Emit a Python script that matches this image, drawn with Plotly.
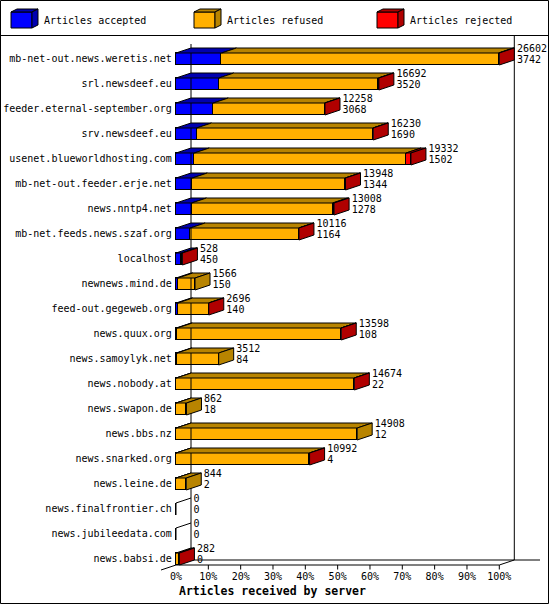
import plotly.graph_objects as go

# 服务器统计数据
servers = [
    "mb-net-out.news.weretis.net", "srl.newsdeef.eu", "feeder.eternal-september.org",
    "srv.newsdeef.eu", "usenet.blueworldhosting.com", "mb-net-out.feeder.erje.net",
    "news.nntp4.net", "mb-net.feeds.news.szaf.org", "localhost", "newnews.mind.de",
    "feed-out.gegeweb.org", "news.quux.org", "news.samoylyk.net", "news.nobody.at",
    "news.swapon.de", "news.bbs.nz", "news.snarked.org", "news.leine.de",
    "news.finalfrontier.ch", "news.jubileedata.com", "news.babsi.de",
]
offered = [26602, 16692, 12258, 16230, 19332, 13948, 13008, 10116, 528, 1566,
           2696, 13598, 3512, 14674, 862, 14908, 10992, 844, 0, 0, 282]
accepted = [3742, 3520, 3068, 1690, 1502, 1344, 1278, 1164, 450, 150,
            140, 108, 84, 22, 18, 12, 4, 2, 0, 0, 0]
refused = [22800, 13132, 9160, 14510, 17430, 12584, 11610, 8932, 58, 1416,
           2546, 13470, 3428, 14642, 844, 14896, 10978, 842, 0, 0, 242]
rejected = [60, 40, 30, 30, 400, 20, 120, 20, 20, 0,
            10, 20, 0, 10, 0, 0, 10, 0, 0, 0, 40]
tick_pct = [0, 10, 20, 30, 40, 50, 60, 70, 80, 90, 100]
legend_names = ["Articles accepted", "Articles refused", "Articles rejected"]

FRONT = ["#0000FF", "#FFB000", "#FF0000"]
SHADE = ["#0000B0", "#B88400", "#B00000"]
FONT = "DejaVu Sans Mono"

W, H = 550, 605
X0_PX, PX_PCT = 176, 3.233      # 0% 的像素位置, 每 1% 的像素
Y0_PX, PX_ROW = 59, 25          # 第一行中心, 行距
DX = 15 / PX_PCT                # 立体深度（x）
DY = 5 / PX_ROW                 # 立体深度（y，向上）
HB = 6 / PX_ROW                 # 正面半高

top = max(offered)
pct = lambda v: v * 100.0 / top
rows = list(range(len(servers)))


def poly_trace(polys, fill):
    xs, ys = [], []
    for p in polys:
        for x, y in p + [p[0]]:
            xs.append(x)
            ys.append(y)
        xs.append(None)
        ys.append(None)
    return go.Scatter(x=xs, y=ys, mode="lines", fill="toself", fillcolor=fill,
                      line=dict(color="black", width=1), hoverinfo="skip", showlegend=False)


def line_trace(segs, width=1):
    xs, ys = [], []
    for s in segs:
        for x, y in s:
            xs.append(x)
            ys.append(y)
        xs.append(None)
        ys.append(None)
    return go.Scatter(x=xs, y=ys, mode="lines", line=dict(color="black", width=width),
                      hoverinfo="skip", showlegend=False)


fig = go.Figure()

# 背景坐标线
ends = [pct(a + r + j) for a, r, j in zip(accepted, refused, rejected)]
wall_bottom = len(servers) - 1 + HB - DY
front_bottom = len(servers) - 1 + HB
segs = [
    [(DX, (44 - Y0_PX) / PX_ROW), (DX, wall_bottom)],
    [(100 + DX, (36 - Y0_PX) / PX_ROW), (100 + DX, wall_bottom)],
    [(DX, wall_bottom), ((540 - X0_PX) / PX_PCT, wall_bottom)],
    [(-DX, front_bottom + DY), (0, front_bottom), (100, front_bottom), (100 + DX, wall_bottom)],
]
for t in tick_pct[1:]:
    segs.append([(t, front_bottom), (t, front_bottom + 0.18)])
fig.add_trace(line_trace(segs))

# 正面
for vals, color, name in zip([accepted, refused, rejected], FRONT, legend_names):
    fig.add_trace(go.Bar(y=rows, x=[pct(v) for v in vals], orientation="h", width=2 * HB,
                         marker=dict(color=color, line=dict(color="black", width=1)),
                         name=name, showlegend=False))

# 顶面
for k, vals in enumerate([accepted, refused, rejected]):
    polys = []
    for i in rows:
        x0 = pct(sum(s[i] for s in [accepted, refused, rejected][:k]))
        x1 = x0 + pct(vals[i])
        if vals[i] > 0:
            yt = i - HB
            polys.append([(x0, yt), (x1, yt), (x1 + DX, yt - DY), (x0 + DX, yt - DY)])
    fig.add_trace(poly_trace(polys, SHADE[k]))

# 侧面
for k in range(3):
    polys = []
    for i in rows:
        vals = [accepted[i], refused[i], rejected[i]]
        if offered[i] == 0:
            continue
        last = max(j for j in range(3) if vals[j] > 0)
        if last == k:
            x = ends[i]
            polys.append([(x, i - HB), (x + DX, i - HB - DY), (x + DX, i + HB - DY), (x, i + HB)])
    if polys:
        fig.add_trace(poly_trace(polys, SHADE[k]))

# 空条
zero = [[(0, i + HB), (0, i - HB), (DX, i - HB - DY)] for i in rows if offered[i] == 0]
fig.add_trace(line_trace(zero))

# 文字
txt = dict(family=FONT, size=10, color="black")
fig.add_trace(go.Scatter(x=[-1.3] * len(rows), y=rows, text=servers, mode="text",
                         textposition="middle left", textfont=txt, hoverinfo="skip", showlegend=False))
fig.add_trace(go.Scatter(x=[e + DX + 0.8 for e in ends], y=[i - 0.38 for i in rows],
                         text=[str(v) for v in offered], mode="text", textposition="middle right",
                         textfont=txt, hoverinfo="skip", showlegend=False))
fig.add_trace(go.Scatter(x=[e + DX + 0.8 for e in ends], y=[i + 0.06 for i in rows],
                         text=[str(v) for v in accepted], mode="text", textposition="middle right",
                         textfont=txt, hoverinfo="skip", showlegend=False))
fig.add_trace(go.Scatter(x=tick_pct, y=[front_bottom + 0.48] * len(tick_pct),
                         text=[f"{t}%" for t in tick_pct], mode="text", textposition="middle center",
                         textfont=txt, hoverinfo="skip", showlegend=False))


# 图例与边框（像素 -> paper）
def px(x, y):
    return x / W, 1 - y / H


shapes = []
annotations = []
for k, (name, lx) in enumerate(zip(legend_names, [11, 194, 377])):
    fx0, fx1, fy0, fy1 = lx, lx + 21, 12, 28
    d = (6, -3)
    a = px(fx0, fy0); b = px(fx1, fy1)
    shapes.append(dict(type="rect", xref="paper", yref="paper", x0=a[0], y0=b[1], x1=b[0], y1=a[1],
                       fillcolor=FRONT[k], line=dict(color="black", width=1)))
    pts_top = [px(fx0, fy0), px(fx1, fy0), px(fx1 + d[0], fy0 + d[1]), px(fx0 + d[0], fy0 + d[1])]
    pts_side = [px(fx1, fy0), px(fx1 + d[0], fy0 + d[1]), px(fx1 + d[0], fy1 + d[1]), px(fx1, fy1)]
    for pts in (pts_top, pts_side):
        path = "M " + " L ".join(f"{x:.5f},{y:.5f}" for x, y in pts) + " Z"
        shapes.append(dict(type="path", xref="paper", yref="paper", path=path,
                           fillcolor=SHADE[k], line=dict(color="black", width=1)))
    tx, ty = px(lx + 31, 20)
    annotations.append(dict(x=tx, y=ty, xref="paper", yref="paper", text=name, showarrow=False,
                            xanchor="left", yanchor="middle", font=txt))

a = px(0.5, 0.5); b = px(548.5, 603.5)
shapes.append(dict(type="rect", xref="paper", yref="paper", x0=a[0], y0=b[1], x1=b[0], y1=a[1],
                   line=dict(color="black", width=1)))
a = px(0.5, 35.5); b = px(548.5, 35.5)
shapes.append(dict(type="line", xref="paper", yref="paper", x0=a[0], y0=a[1], x1=b[0], y1=b[1],
                   line=dict(color="black", width=1)))
tx, ty = px(177, 591)
annotations.append(dict(x=tx, y=ty, xref="paper", yref="paper", text="<b>Articles received by server</b>",
                        showarrow=False, xanchor="left", yanchor="middle",
                        font=dict(family=FONT, size=11.5, color="black")))

fig.update_layout(
    width=W, height=H, autosize=False,
    margin=dict(l=0, r=0, t=0, b=0, pad=0),
    paper_bgcolor="white", plot_bgcolor="white",
    barmode="stack", bargap=0,
    showlegend=False,
    xaxis=dict(range=[-X0_PX / PX_PCT, (W - X0_PX) / PX_PCT], visible=False, fixedrange=True),
    yaxis=dict(range=[(H - Y0_PX) / PX_ROW, -Y0_PX / PX_ROW], visible=False, fixedrange=True),
    shapes=shapes,
    annotations=annotations,
)

# 页面默认 8px 边距会把图挤出窗口
fig.write_html("out.html", config={"displayModeBar": False},
               post_script="document.body.style.margin='0';")
